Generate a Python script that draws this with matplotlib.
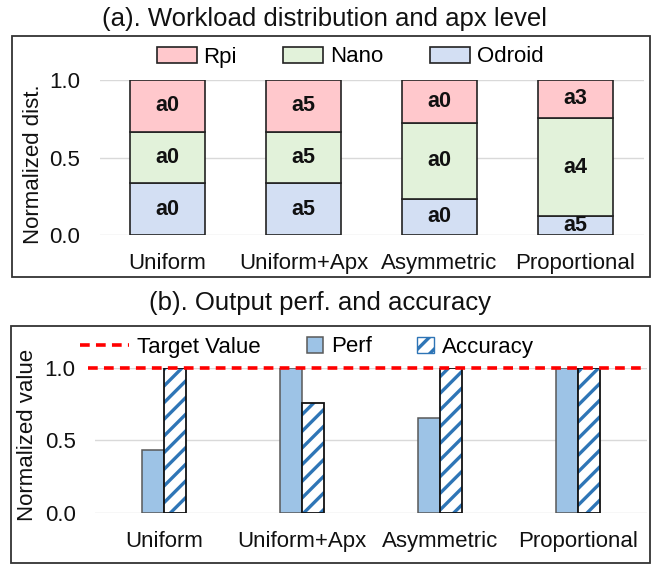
import matplotlib
matplotlib.use("Agg")
import matplotlib.pyplot as plt
import numpy as np
from matplotlib.patches import Rectangle
from matplotlib.legend_handler import HandlerPatch
from matplotlib.lines import Line2D
from matplotlib.patches import Patch

plt.rcParams["font.family"] = ["Liberation Sans", "DejaVu Sans"]
plt.rcParams["hatch.linewidth"] = 2.4
plt.rcParams["lines.scale_dashes"] = False

# ---- data ----
categories = ["Uniform", "Uniform+Apx", "Asymmetric", "Proportional"]

# (a) workload distribution (stack order bottom -> top)
odroid_share = [0.333, 0.333, 0.233, 0.12]
nano_share = [0.334, 0.334, 0.492, 0.635]
rpi_share = [0.333, 0.333, 0.275, 0.245]
odroid_apx = ["a0", "a5", "a0", "a5"]
nano_apx = ["a0", "a5", "a0", "a4"]
rpi_apx = ["a0", "a5", "a0", "a3"]

# (b) output perf and accuracy
perf = [0.43, 1.0, 0.655, 1.0]
accuracy = [1.0, 0.755, 1.0, 1.0]
target_value = 1.0

yticks = [0.0, 0.5, 1.0]

FS = 16
W, H = 664, 579
fig = plt.figure(figsize=(W / 100, H / 100), dpi=100)


def px_axes(left, right, top, bottom):
    return fig.add_axes([left / W, 1 - bottom / H, (right - left) / W, (bottom - top) / H])


def style_axes(ax):
    for s in ax.spines.values():
        s.set_visible(False)
    ax.set_ylim(0, 1.0)
    ax.set_xlim(-0.5, len(categories) - 0.5)
    ax.set_yticks(yticks)
    ax.set_yticklabels([f"{t:.1f}" for t in yticks])
    ax.set_xticks(np.arange(len(categories)))
    ax.set_xticklabels(categories)
    ax.tick_params(axis="both", length=0, labelsize=FS, colors="#111111")
    ax.tick_params(axis="x", pad=13)
    ax.tick_params(axis="y", pad=14)
    ax.yaxis.grid(True, color="#D9D9D9", linewidth=1.0, zorder=0)
    ax.set_axisbelow(True)


# panel frames
fig.patches.append(Rectangle((12 / W, 1 - 277 / H), 638 / W, 241 / H, transform=fig.transFigure,
                             fill=False, edgecolor="#333333", linewidth=1.3))
fig.patches.append(Rectangle((11 / W, 1 - 563 / H), 639 / W, 237 / H, transform=fig.transFigure,
                             fill=False, edgecolor="#333333", linewidth=1.3))

fig.text(325 / W, 1 - 19 / H, "(a). Workload distribution and apx level", ha="center", va="center",
         fontsize=18.5, color="#111111")
fig.text(320 / W, 1 - 303 / H, "(b). Output perf. and accuracy", ha="center", va="center",
         fontsize=18.5, color="#111111")

# ---- (a) ----
ax1 = px_axes(99.5, 643.5, 80, 235)
style_axes(ax1)
x = np.arange(len(categories))
bw = 0.55
c_odroid, c_nano, c_rpi = "#D3DFF3", "#E2F2DA", "#FFC8CC"
b1 = ax1.bar(x, odroid_share, bw, color=c_odroid, edgecolor="#222222", linewidth=1.2,
             label="Odroid", zorder=3)
b2 = ax1.bar(x, nano_share, bw, bottom=odroid_share, color=c_nano, edgecolor="#222222",
             linewidth=1.2, label="Nano", zorder=3)
bot3 = np.array(odroid_share) + np.array(nano_share)
b3 = ax1.bar(x, rpi_share, bw, bottom=bot3, color=c_rpi, edgecolor="#222222", linewidth=1.2,
             label="Rpi", zorder=3)
for bars, labels in ((b1, odroid_apx), (b2, nano_apx), (b3, rpi_apx)):
    for r, t in zip(bars, labels):
        ax1.text(r.get_x() + r.get_width() / 2, r.get_y() + r.get_height() / 2, t,
                 ha="center", va="center", fontsize=15.5, fontweight="bold", color="#111111",
                 zorder=4)
ax1.set_ylabel("Normalized dist.", fontsize=FS, color="#111111")
ax1.yaxis.set_label_coords(-0.102, 0.46)
ax1.legend(handles=[b3, b2, b1], labels=["Rpi", "Nano", "Odroid"], ncol=3, frameon=False,
           fontsize=FS, loc="center", bbox_to_anchor=(350 / W, 1 - 57 / H),
           bbox_transform=fig.transFigure, handlelength=1.8, handleheight=0.7,
           handletextpad=0.3, columnspacing=2.1)

# ---- (b) ----
ax2 = px_axes(95, 647, 368, 512.7)
style_axes(ax2)
bw2 = 0.16
c_perf = "#9DC3E6"
c_hatch = "#2E75B6"
p = ax2.bar(x - bw2 / 2, perf, bw2, color=c_perf, edgecolor="#595959", linewidth=1.1,
            label="Perf", zorder=3)
ax2.bar(x + bw2 / 2, accuracy, bw2, color="white", edgecolor=c_hatch, hatch="//", linewidth=0,
        zorder=3)
ax2.bar(x + bw2 / 2, accuracy, bw2, fill=False, edgecolor="#111111", linewidth=1.3, zorder=3)
ax2.axhline(target_value, xmin=(88 - 95) / 552, xmax=(643 - 95) / 552, color="#FF0000",
            linewidth=2.6, dashes=(7, 4.5), clip_on=False, zorder=5)
ax2.set_ylabel("Normalized value", fontsize=FS, color="#111111")
ax2.yaxis.set_label_coords(-0.104, 0.54)


def square_patch(legend, orig_handle, xdescent, ydescent, width, height, fontsize):
    s = height * 1.05
    return Rectangle((-xdescent + width - s, -ydescent - (s - height) / 2), s, s)


h_target = Line2D([], [], color="#FF0000", linewidth=2.6, dashes=(7, 4.5))
h_perf = Patch(facecolor=c_perf, edgecolor="#595959", linewidth=1.1)
h_acc = Patch(facecolor="white", edgecolor=c_hatch, hatch="//", linewidth=1.0)
ax2.legend(handles=[h_target, h_perf, h_acc], labels=["Target Value", "Perf", "Accuracy"], ncol=3,
           frameon=False, fontsize=FS, loc="center", bbox_to_anchor=(307 / W, 1 - 347 / H),
           bbox_transform=fig.transFigure, handlelength=2.2, handletextpad=0.35,
           columnspacing=0.6,
           handler_map={Patch: HandlerPatch(patch_func=square_patch)})

fig.savefig("out.png", dpi=100)
